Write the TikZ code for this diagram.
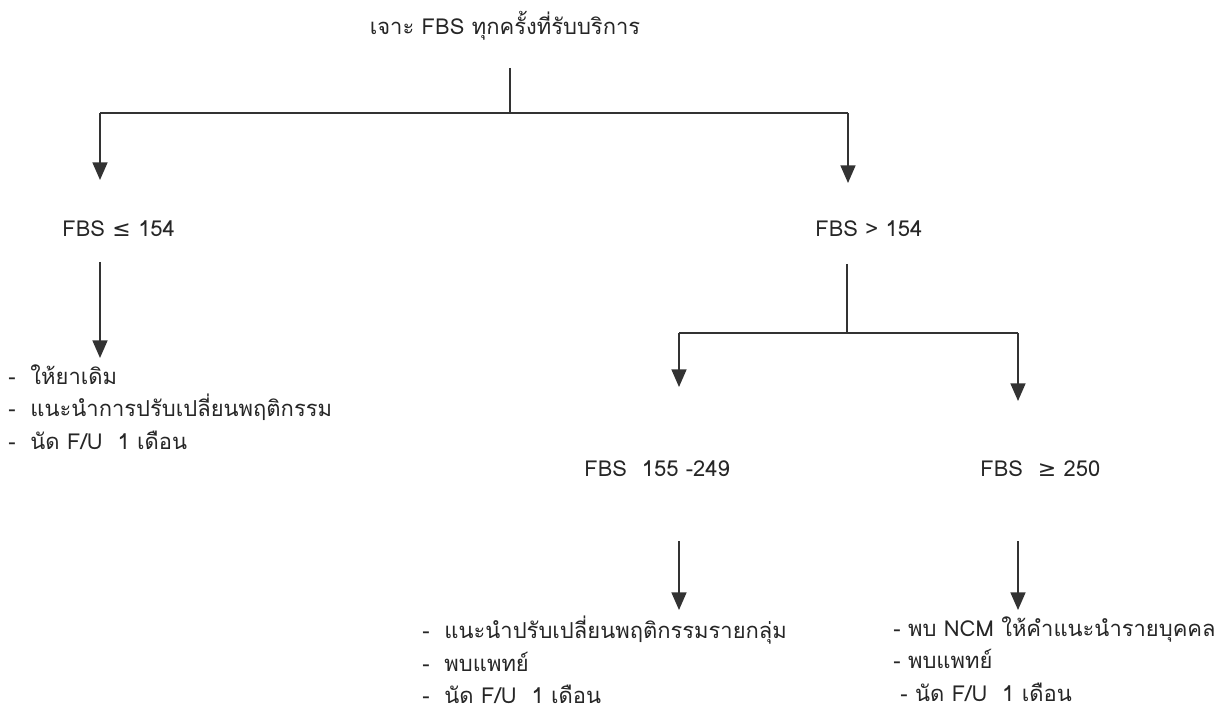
\documentclass[tikz,border=0pt]{standalone}
\usepackage{fontspec}
\setmainfont[Script=Thai]{Loma}
\newfontfamily\symf{DejaVu Sans}
\usetikzlibrary{arrows.meta}
\tikzset{
  txt/.style={inner sep=0pt, font=\fontsize{12.5}{18.5}\selectfont, text=black!85},
  lst/.style={txt, align=left, anchor=north west},
  ln/.style={draw=black!80, line width=0.9pt},
  arr/.style={ln, -{Triangle[width=8.5pt,length=10pt]}, shorten >=0pt},
}
\begin{document}
\begin{tikzpicture}[x=0.02cm,y=-0.02cm]
\useasboundingbox (0,0) rectangle (1220,719);
% nodes
\node[txt] (top) at (505,26) {เจาะ FBS ทุกครั้งที่รับบริการ};
\node[txt, anchor=west] (lo) at (62,229) {FBS {\symf ≤} 154};
\node[txt, anchor=west] (hi) at (815,229) {FBS > 154};
\node[txt, anchor=west] (mid) at (584,469) {FBS\ \ 155 -249};
\node[txt, anchor=west] (vhi) at (980,469) {FBS\ \ {\symf ≥} 250};
\node[lst] (L1) at (8,364) {-\ \ ให้ยาเดิม\\-\ \ แนะนำการปรับเปลี่ยนพฤติกรรม\\-\ \ นัด F/U\ \ 1 เดือน};
\node[lst] (L2) at (422,616) {-\ \ แนะนำปรับเปลี่ยนพฤติกรรมรายกลุ่ม\\-\ \ พบแพทย์\\-\ \ นัด F/U\ \ 1 เดือน};
\node[lst] (L3) at (893,616) {- พบ NCM ให้คำแนะนำรายบุคคล\\- พบแพทย์\\\hspace{4pt}- นัด F/U\ \ 1 เดือน};
% junction coordinates
\coordinate (t0) at (510,68);
\coordinate (tj) at (510,113);
\coordinate (tl) at (100,113);
\coordinate (tr) at (848,113);
\coordinate (la) at (100,180);
\coordinate (ra) at (848,183);
\coordinate (l0) at (100,262);
\coordinate (l1) at (100,358);
\coordinate (h0) at (847,264);
\coordinate (hj) at (847,333);
\coordinate (hl) at (679,333);
\coordinate (hr) at (1018,333);
\coordinate (ma) at (679,387);
\coordinate (va) at (1018,401);
\coordinate (m0) at (679,541);
\coordinate (m1) at (679,610);
\coordinate (v0) at (1018,541);
\coordinate (v1) at (1018,610);
% connectors
\draw[ln] (t0) -- (tj);
\draw[ln] (tl) -- (tr);
\draw[arr] (tl) -- (la);
\draw[arr] (tr) -- (ra);
\draw[arr] (l0) -- (l1);
\draw[ln] (h0) -- (hj);
\draw[ln] (hl) -- (hr);
\draw[arr] (hl) -- (ma);
\draw[arr] (hr) -- (va);
\draw[arr] (m0) -- (m1);
\draw[arr] (v0) -- (v1);
\end{tikzpicture}
\end{document}
